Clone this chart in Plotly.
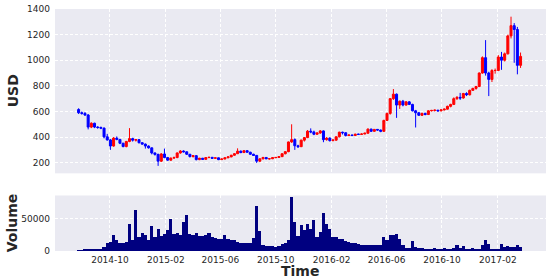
import pandas as pd
import plotly.graph_objects as go

# weekly candles (centred mid-week)
weeks = pd.date_range("2014-07-24", periods=140, freq="7D")

open_usd = [615, 590, 585, 572, 478, 508, 478, 475, 470, 402,
            378, 330, 392, 382, 352, 326, 366, 388, 376, 380,
            356, 345, 330, 316, 276, 265, 212, 268, 240, 220,
            236, 240, 276, 291, 285, 266, 248, 255, 224, 235,
            226, 240, 242, 234, 238, 224, 229, 238, 245, 258,
            270, 290, 279, 294, 282, 266, 257, 212, 230, 241,
            230, 231, 239, 241, 247, 270, 286, 362, 380, 332,
            325, 376, 396, 446, 440, 422, 432, 448, 380, 392,
            372, 376, 402, 438, 434, 412, 416, 412, 423, 421,
            424, 430, 462, 445, 460, 455, 445, 530, 585, 700,
            735, 650, 680, 650, 675, 655, 605, 590, 570, 585,
            576, 605, 608, 610, 605, 612, 618, 640, 655, 700,
            710, 705, 740, 730, 765, 780, 795, 900, 1020, 900,
            850, 920, 920, 1025, 1000, 1050, 1190, 1270, 1240, 960]
close_usd = [590, 585, 572, 478, 508, 478, 475, 470, 402, 378,
             330, 392, 382, 352, 326, 366, 388, 376, 380, 356,
             345, 330, 316, 276, 265, 212, 268, 240, 220, 236,
             240, 276, 291, 285, 266, 248, 255, 224, 235, 226,
             240, 242, 234, 238, 224, 229, 238, 245, 258, 270,
             290, 279, 294, 282, 266, 257, 212, 230, 241, 230,
             231, 239, 241, 247, 270, 286, 362, 380, 332, 325,
             376, 396, 446, 440, 422, 432, 448, 380, 392, 372,
             376, 402, 438, 434, 412, 416, 412, 423, 421, 424,
             430, 462, 445, 460, 455, 445, 530, 585, 700, 735,
             650, 680, 650, 675, 655, 605, 590, 570, 585, 576,
             605, 608, 610, 605, 612, 618, 640, 655, 700, 710,
             705, 740, 730, 765, 780, 795, 900, 1020, 900, 850,
             920, 920, 1025, 1000, 1050, 1190, 1270, 1240, 960, 1030]
high_usd = [625, 600, 595, 580, 515, 512, 485, 482, 475, 425,
            385, 400, 405, 385, 355, 370, 470, 395, 385, 382,
            360, 350, 335, 318, 280, 270, 275, 310, 245, 240,
            248, 280, 298, 296, 288, 268, 260, 258, 238, 237,
            244, 245, 244, 240, 240, 232, 240, 250, 262, 275,
            312, 295, 298, 297, 285, 270, 260, 235, 245, 243,
            235, 241, 245, 250, 272, 290, 365, 500, 390, 340,
            380, 400, 455, 468, 450, 438, 455, 452, 400, 398,
            385, 406, 442, 442, 436, 420, 420, 426, 426, 428,
            434, 468, 466, 463, 462, 458, 535, 590, 705, 775,
            740, 685, 690, 680, 680, 660, 612, 595, 590, 590,
            610, 612, 615, 612, 616, 622, 645, 660, 710, 720,
            745, 745, 750, 770, 785, 800, 905, 1030, 1157, 910,
            930, 935, 1040, 1065, 1060, 1200, 1340, 1290, 1260, 1060]
low_usd = [580, 575, 565, 460, 470, 470, 465, 462, 390, 372,
           300, 325, 375, 345, 320, 320, 360, 365, 365, 350,
           340, 310, 310, 265, 255, 175, 205, 235, 215, 215,
           230, 235, 270, 280, 260, 240, 240, 218, 220, 222,
           224, 235, 230, 230, 220, 222, 226, 236, 243, 255,
           268, 274, 276, 278, 262, 254, 198, 205, 226, 228,
           225, 228, 236, 238, 245, 265, 282, 355, 300, 315,
           322, 365, 392, 430, 415, 418, 425, 360, 372, 365,
           368, 372, 398, 420, 405, 408, 408, 410, 416, 418,
           422, 428, 440, 442, 450, 438, 440, 525, 575, 690,
           550, 620, 640, 645, 650, 600, 475, 565, 565, 570,
           572, 600, 600, 598, 600, 608, 615, 632, 650, 690,
           690, 700, 720, 725, 760, 770, 790, 895, 880, 720,
           830, 895, 915, 925, 990, 1045, 1170, 980, 890, 940]
volume = [800, 800, 900, 1000, 1200, 1500, 1800, 2500, 6000, 12000,
          14000, 25000, 17000, 12000, 11000, 14000, 41000, 17000, 64000, 21000,
          28000, 25000, 17000, 38000, 21000, 34000, 22000, 26000, 32000, 49000,
          26000, 28000, 24000, 44000, 55000, 26000, 25000, 28000, 23000, 22000,
          24000, 28000, 21000, 20000, 18000, 18000, 24000, 18000, 17000, 16000,
          14000, 12000, 11000, 11000, 12000, 20000, 70000, 30000, 8000, 7000,
          6500, 6500, 6000, 7000, 10000, 12000, 16000, 83000, 45000, 22000,
          40000, 32000, 42000, 33000, 47000, 21000, 29000, 58000, 42000, 34000,
          21000, 21000, 18000, 18000, 15000, 14000, 11000, 11000, 10000, 8000,
          8000, 8000, 9000, 9000, 8000, 8000, 21000, 16000, 24000, 24000,
          26000, 18000, 9000, 4000, 4000, 15000, 5000, 4000, 4000, 3000,
          3000, 3000, 3500, 3000, 3000, 3500, 3000, 3000, 3500, 8000,
          3500, 7500, 3000, 3000, 3500, 3000, 3000, 8000, 16000, 10000,
          3000, 3000, 3000, 10000, 5000, 7500, 5000, 5500, 8000, 5500]

price_ticks = [200, 400, 600, 800, 1000, 1200, 1400]
volume_ticks = [0, 50000]

bg = "#EAEAF2"
ink = "#262626"
font = "DejaVu Sans"

fig = go.Figure()
fig.add_trace(go.Candlestick(
    x=weeks, open=open_usd, high=high_usd, low=low_usd, close=close_usd,
    increasing=dict(line=dict(color="#FF0000", width=1), fillcolor="#FF0000"),
    decreasing=dict(line=dict(color="#0000FF", width=1), fillcolor="#0000FF"),
    whiskerwidth=0, showlegend=False, xaxis="x", yaxis="y",
))
fig.add_trace(go.Bar(
    x=weeks, y=volume, marker=dict(color="#000080", line=dict(width=0)),
    showlegend=False, xaxis="x2", yaxis="y2",
))

grid = dict(showgrid=True, gridcolor="white", gridwidth=1, griddash="3px,2px",
            zeroline=False, showline=False, ticks="",
            tickfont=dict(family=font, size=9, color=ink))
xr = ["2014-06-02", "2017-05-18"]
title_font = dict(family=font, size=14, color=ink)

fig.update_layout(
    width=550, height=280,
    margin=dict(l=55, r=4, t=7, b=29),
    paper_bgcolor="white", plot_bgcolor=bg,
    bargap=0, boxgap=0.1,
    font=dict(family=font, color=ink),
    xaxis=dict(domain=[0, 1], anchor="y", range=xr, matches="x2",
               showticklabels=False, tick0="2014-10-01", dtick="M4",
               rangeslider=dict(visible=False), **grid),
    xaxis2=dict(domain=[0, 1], anchor="y2", range=xr, tick0="2014-10-01",
                dtick="M4", tickformat="%Y-%m", ticklabelstandoff=2, **grid),
    yaxis=dict(domain=[0.321, 1], range=[117, 1400], tickvals=price_ticks,
               ticklabelstandoff=4, **grid),
    yaxis2=dict(domain=[0, 0.2295], range=[0, 86700], tickvals=volume_ticks,
                tickformat="d", ticklabelstandoff=4, **grid),
    annotations=[
        dict(text="<b>USD</b>", x=13, y=90, textangle=-90, font=title_font),
        dict(text="<b>Volume</b>", x=12, y=223, textangle=-90, font=title_font),
        dict(text="<b>Time</b>", x=300, y=271, font=title_font),
    ],
)

# place the three titles in pixel terms
pw, ph = 550 - 55 - 4, 280 - 7 - 29
for a in fig.layout.annotations:
    a.xref, a.yref = "paper", "paper"
    a.xanchor, a.yanchor = "center", "middle"
    a.showarrow = False
    a.x = (a.x - 55) / pw
    a.y = (280 - 29 - a.y) / ph

fig.write_html("out.html", config={"displayModeBar": False},
               post_script="document.body.style.margin='0';")
